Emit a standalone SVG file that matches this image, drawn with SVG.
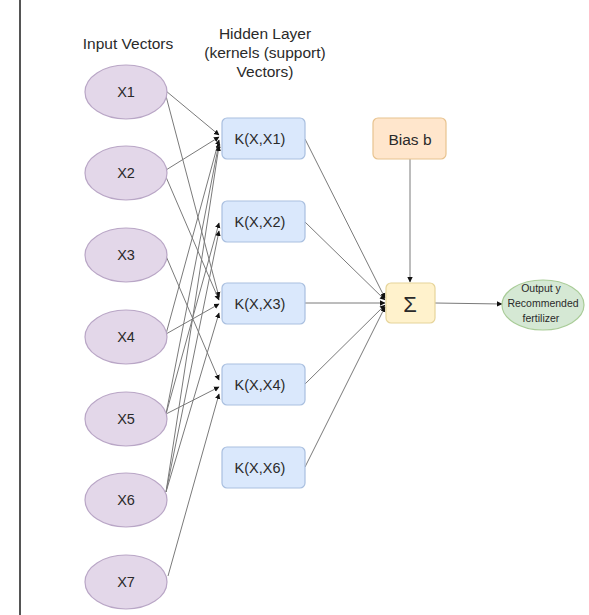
<svg xmlns="http://www.w3.org/2000/svg" width="589" height="615" viewBox="0 0 589 615">
<style>
text{font-family:"Liberation Sans",Arial,sans-serif;fill:#2a2a2a;text-anchor:middle;dominant-baseline:central}
.t{font-size:15.5px}
.k{font-size:14.5px}
.x{font-size:14.5px}
.o{font-size:10.5px}
.in ellipse{fill:#e3d7e9;stroke:#b9a6c6;stroke-width:1.2}
.ker rect{fill:#dae8fc;stroke:#a9bfdf;stroke-width:1.2}
#conn line{stroke:#7a7a7a;stroke-width:1;marker-end:url(#a)}
</style>
<defs>
<marker id="a" markerUnits="userSpaceOnUse" markerWidth="7" markerHeight="7" refX="5" refY="3.5" orient="auto">
<path d="M0,0.8 L5.5,3.5 L0,6.2 z" fill="#111"/>
</marker>
</defs>
<rect width="589" height="615" fill="#fff"/>
<line x1="20" y1="0" x2="20" y2="615" stroke="#555" stroke-width="2"/>
<g id="titles">
<text class="t" x="128" y="43">Input Vectors</text>
<text class="t" x="265" y="33">Hidden Layer</text>
<text class="t" x="265" y="52">(kernels (support)</text>
<text class="t" x="265" y="71">Vectors)</text>
</g>
<g id="conn">
<line x1="166" y1="91" x2="219" y2="135"/>
<line x1="166" y1="96" x2="219" y2="297"/>
<line x1="166" y1="170" x2="219" y2="137"/>
<line x1="166" y1="177" x2="219" y2="300"/>
<line x1="166" y1="256" x2="219" y2="380"/>
<line x1="166" y1="334" x2="219" y2="140"/>
<line x1="166" y1="334" x2="219" y2="304"/>
<line x1="166" y1="414" x2="219" y2="143"/>
<line x1="166" y1="414" x2="219" y2="223"/>
<line x1="166" y1="414" x2="219" y2="387"/>
<line x1="166" y1="492" x2="219" y2="146"/>
<line x1="166" y1="492" x2="219" y2="231"/>
<line x1="166" y1="492" x2="219" y2="313"/>
<line x1="168" y1="576" x2="219" y2="394"/>
<line x1="305" y1="139" x2="385" y2="298"/>
<line x1="305" y1="222" x2="385" y2="300"/>
<line x1="305" y1="303" x2="385" y2="303"/>
<line x1="305" y1="384" x2="385" y2="305"/>
<line x1="305" y1="467" x2="385" y2="307"/>
<line x1="410" y1="159" x2="410" y2="282"/>
<line x1="435" y1="303" x2="502" y2="304"/>
</g>
<g id="x1" class="in"><ellipse cx="126" cy="92" rx="41" ry="27"/><text class="x" x="126" y="92">X1</text></g>
<g id="x2" class="in"><ellipse cx="126" cy="173" rx="41" ry="27"/><text class="x" x="126" y="173">X2</text></g>
<g id="x3" class="in"><ellipse cx="126" cy="255" rx="41" ry="27"/><text class="x" x="126" y="255">X3</text></g>
<g id="x4" class="in"><ellipse cx="126" cy="337" rx="41" ry="27"/><text class="x" x="126" y="337">X4</text></g>
<g id="x5" class="in"><ellipse cx="126" cy="419" rx="41" ry="27"/><text class="x" x="126" y="419">X5</text></g>
<g id="x6" class="in"><ellipse cx="126" cy="500" rx="41" ry="27"/><text class="x" x="126" y="500">X6</text></g>
<g id="x7" class="in"><ellipse cx="126" cy="582" rx="41" ry="27"/><text class="x" x="126" y="582">X7</text></g>
<g id="k1" class="ker"><rect x="222" y="118" width="83" height="41" rx="5"/><text class="k" x="260" y="139">K(X,X1)</text></g>
<g id="k2" class="ker"><rect x="222" y="201" width="83" height="41" rx="5"/><text class="k" x="260" y="222">K(X,X2)</text></g>
<g id="k3" class="ker"><rect x="222" y="283" width="83" height="41" rx="5"/><text class="k" x="260" y="304">K(X,X3)</text></g>
<g id="k4" class="ker"><rect x="222" y="364" width="83" height="41" rx="5"/><text class="k" x="260" y="385">K(X,X4)</text></g>
<g id="k6" class="ker"><rect x="222" y="447" width="83" height="41" rx="5"/><text class="k" x="260" y="468">K(X,X6)</text></g>
<g id="bias"><rect x="373" y="118" width="73" height="41" rx="5" fill="#ffe6cc" stroke="#e8c38f" stroke-width="1.2"/><text class="t" x="410" y="139">Bias b</text></g>
<g id="sum"><rect x="386" y="283" width="49" height="40" rx="5" fill="#fff2cc" stroke="#e6d49a" stroke-width="1.2"/><text x="410" y="304" font-size="22">Σ</text></g>
<g id="out"><ellipse cx="543" cy="305" rx="41" ry="25" fill="#d5e8d4" stroke="#a9cc98" stroke-width="1.2"/>
<text class="o" x="541" y="288">Output y</text>
<text class="o" x="543" y="303">Recommended</text>
<text class="o" x="541" y="318">fertilizer</text></g>
</svg>
